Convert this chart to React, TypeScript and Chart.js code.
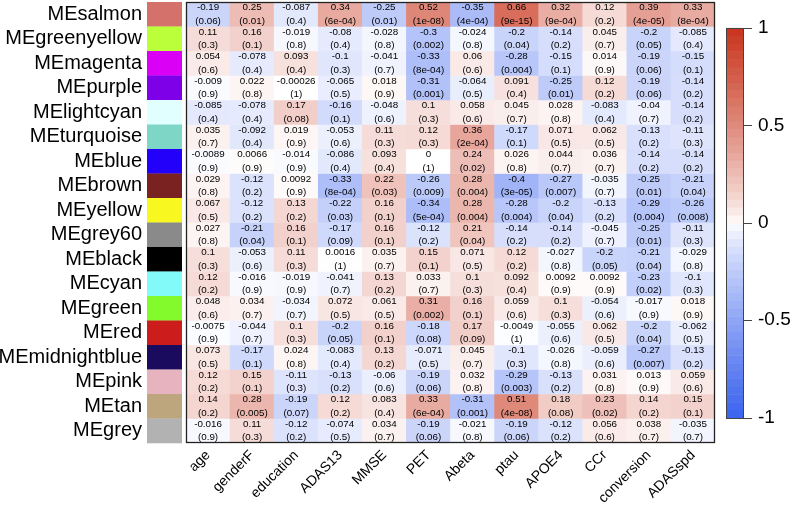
import React, { useEffect, useRef } from 'react';
import { Chart, registerables } from 'chart.js';
Chart.register(...registerables);

const FONT = '"Liberation Sans", Arial, Helvetica, sans-serif';

const traits = ['age', 'genderF', 'education', 'ADAS13', 'MMSE', 'PET', 'Abeta', 'ptau', 'APOE4', 'CCr', 'conversion', 'ADASspd'];

const modules = ['MEsalmon', 'MEgreenyellow', 'MEmagenta', 'MEpurple', 'MElightcyan', 'MEturquoise', 'MEblue', 'MEbrown', 'MEyellow', 'MEgrey60', 'MEblack', 'MEcyan', 'MEgreen', 'MEred', 'MEmidnightblue', 'MEpink', 'MEtan', 'MEgrey'];

const moduleColors = ['#D4716A', '#BBFF3A', '#DA00F5', '#7E00E8', '#E2FFFF', '#7DD6C6', '#2200FA', '#7A2222', '#F8F820', '#8A8A8A', '#000000', '#82FAFA', '#82FA2C', '#CC1C1C', '#1B0B5E', '#E6B3BE', '#BDA67E', '#B2B2B2'];

const corr = [
  [-0.19, 0.25, -0.087, 0.34, -0.25, 0.52, -0.35, 0.66, 0.32, 0.12, 0.39, 0.33],
  [0.11, 0.16, -0.019, -0.08, -0.028, -0.3, -0.024, -0.2, -0.14, 0.045, -0.2, -0.085],
  [0.054, -0.078, 0.093, -0.1, -0.041, -0.33, 0.06, -0.28, -0.15, 0.014, -0.19, -0.15],
  [-0.009, 0.022, -0.00026, -0.065, 0.018, -0.31, -0.064, 0.091, -0.25, 0.12, -0.19, -0.14],
  [-0.085, -0.078, 0.17, -0.16, -0.048, 0.1, 0.058, 0.045, 0.028, -0.083, -0.04, -0.14],
  [0.035, -0.092, 0.019, -0.053, 0.11, 0.12, 0.36, -0.17, 0.071, 0.062, -0.13, -0.11],
  [-0.0089, 0.0066, -0.014, -0.086, 0.093, 0, 0.24, 0.026, 0.044, 0.036, -0.14, -0.14],
  [0.029, -0.12, 0.0092, -0.33, 0.22, -0.26, 0.28, -0.4, -0.27, -0.035, -0.25, -0.21],
  [0.067, -0.12, 0.13, -0.22, 0.16, -0.34, 0.28, -0.28, -0.2, -0.13, -0.29, -0.26],
  [0.027, -0.21, 0.16, -0.17, 0.16, -0.12, 0.21, -0.14, -0.14, -0.045, -0.25, -0.11],
  [0.1, -0.053, 0.11, 0.0016, 0.035, 0.15, 0.071, 0.12, -0.027, -0.2, -0.21, -0.029],
  [0.12, -0.016, -0.019, -0.041, 0.13, 0.033, 0.1, 0.092, 0.0092, 0.0092, -0.23, -0.1],
  [0.048, 0.034, -0.034, 0.072, 0.061, 0.31, 0.16, 0.059, 0.1, -0.054, -0.017, 0.018],
  [-0.0075, -0.044, 0.1, -0.2, 0.16, -0.18, 0.17, -0.0049, -0.055, 0.062, -0.2, -0.062],
  [0.073, -0.17, 0.024, -0.083, 0.13, -0.071, 0.045, -0.1, -0.026, -0.059, -0.27, -0.13],
  [0.12, 0.15, -0.11, -0.13, -0.06, -0.19, 0.032, -0.29, -0.13, 0.031, 0.013, 0.059],
  [0.14, 0.28, -0.19, 0.12, 0.083, 0.33, -0.31, 0.51, 0.18, 0.23, 0.14, 0.15],
  [-0.016, 0.11, -0.12, -0.074, 0.034, -0.19, -0.021, -0.19, -0.12, 0.056, 0.038, -0.035],
];

const pvals = [
  ['0.06', '0.01', '0.4', '6e-04', '0.01', '1e-08', '4e-04', '9e-15', '9e-04', '0.2', '4e-05', '8e-04'],
  ['0.3', '0.1', '0.8', '0.4', '0.8', '0.002', '0.8', '0.04', '0.2', '0.7', '0.05', '0.4'],
  ['0.6', '0.4', '0.4', '0.3', '0.7', '8e-04', '0.6', '0.004', '0.1', '0.9', '0.06', '0.1'],
  ['0.9', '0.8', '1', '0.5', '0.9', '0.001', '0.5', '0.4', '0.01', '0.2', '0.06', '0.2'],
  ['0.4', '0.4', '0.08', '0.1', '0.6', '0.3', '0.6', '0.7', '0.8', '0.4', '0.7', '0.2'],
  ['0.7', '0.4', '0.9', '0.6', '0.3', '0.3', '2e-04', '0.1', '0.5', '0.5', '0.2', '0.3'],
  ['0.9', '0.9', '0.9', '0.4', '0.4', '1', '0.02', '0.8', '0.7', '0.7', '0.2', '0.2'],
  ['0.8', '0.2', '0.9', '8e-04', '0.03', '0.009', '0.004', '3e-05', '0.007', '0.7', '0.01', '0.04'],
  ['0.5', '0.2', '0.2', '0.03', '0.1', '5e-04', '0.004', '0.004', '0.04', '0.2', '0.004', '0.008'],
  ['0.8', '0.04', '0.1', '0.09', '0.1', '0.2', '0.04', '0.2', '0.2', '0.7', '0.01', '0.3'],
  ['0.3', '0.6', '0.3', '1', '0.7', '0.1', '0.5', '0.2', '0.8', '0.05', '0.04', '0.8'],
  ['0.2', '0.9', '0.9', '0.7', '0.2', '0.7', '0.3', '0.4', '0.9', '0.9', '0.02', '0.3'],
  ['0.6', '0.7', '0.7', '0.5', '0.5', '0.002', '0.1', '0.6', '0.3', '0.6', '0.9', '0.9'],
  ['0.9', '0.7', '0.3', '0.05', '0.1', '0.08', '0.09', '1', '0.6', '0.5', '0.04', '0.5'],
  ['0.5', '0.1', '0.8', '0.4', '0.2', '0.5', '0.7', '0.3', '0.8', '0.6', '0.007', '0.2'],
  ['0.2', '0.1', '0.3', '0.2', '0.6', '0.06', '0.8', '0.003', '0.2', '0.8', '0.9', '0.6'],
  ['0.2', '0.005', '0.07', '0.2', '0.4', '6e-04', '0.001', '4e-08', '0.08', '0.02', '0.2', '0.1'],
  ['0.9', '0.3', '0.2', '0.5', '0.7', '0.06', '0.8', '0.06', '0.2', '0.6', '0.7', '0.7'],
];

const colorbarTicks = [1, 0.5, 0, -0.5, -1];

const RED_END = [200, 52, 28];
const BLUE_END = [58, 98, 238];

function corrColor(v: number): string {
  const end = v >= 0 ? RED_END : BLUE_END;
  const f = Math.pow(Math.min(1, Math.abs(v)), 0.8);
  const c = end.map((e) => Math.round(255 + (e - 255) * f));
  return `rgb(${c[0]},${c[1]},${c[2]})`;
}

const heatPlugin = {
  id: 'heatExtras',
  afterDatasetsDraw(chart: any) {
    const ctx = chart.ctx;
    const { left, top, right, bottom } = chart.chartArea;
    ctx.save();
    // cell texts
    ctx.font = `9.8px ${FONT}`;
    ctx.fillStyle = '#000';
    ctx.textAlign = 'center';
    ctx.textBaseline = 'middle';
    chart.data.datasets.forEach((_ds: any, di: number) => {
      const meta = chart.getDatasetMeta(di);
      meta.data.forEach((el: any, ci: number) => {
        const cy = (el.y + el.base) / 2;
        ctx.fillText(String(corr[di][ci]), el.x, cy - 6.5);
        ctx.fillText('(' + pvals[di][ci] + ')', el.x, cy + 6.8);
      });
    });
    // heatmap frame
    ctx.strokeStyle = '#222';
    ctx.lineWidth = 1.3;
    ctx.strokeRect(left + 0.5, top + 0.5, right - left - 1, bottom - top - 1);
    // module color swatches
    const ys = chart.scales.y;
    modules.forEach((_m, i) => {
      const y0 = ys.getPixelForValue(i);
      const y1 = ys.getPixelForValue(i + 1);
      ctx.fillStyle = moduleColors[i];
      ctx.fillRect(left - 39, y0, 35, y1 - y0 + 0.3);
    });
    // colorbar
    const cb = chart.scales.cb;
    const cbx = right + 11;
    const cbw = 17;
    const n = 50;
    for (let k = 0; k < n; k++) {
      const v0 = -1 + (2 * k) / n;
      const v1 = -1 + (2 * (k + 1)) / n;
      const p0 = cb.getPixelForValue(v0);
      const p1 = cb.getPixelForValue(v1);
      ctx.fillStyle = corrColor((v0 + v1) / 2);
      ctx.fillRect(cbx, p1, cbw, p0 - p1 + 0.5);
    }
    const yTop = cb.getPixelForValue(1);
    const yBot = cb.getPixelForValue(-1);
    ctx.strokeStyle = '#444';
    ctx.lineWidth = 1;
    ctx.strokeRect(cbx + 0.5, Math.round(yTop) + 0.5, cbw, Math.round(yBot - yTop));
    colorbarTicks.forEach((t) => {
      const py = Math.round(cb.getPixelForValue(t)) + 0.5;
      ctx.beginPath();
      ctx.moveTo(cbx + cbw, py);
      ctx.lineTo(cbx + cbw + 9, py);
      ctx.stroke();
    });
    ctx.restore();
  },
};

export default function App() {
  const ref = useRef<HTMLCanvasElement | null>(null);
  useEffect(() => {
    if (!ref.current) return;
    const chart = new Chart(ref.current, {
      type: 'bar',
      data: {
        labels: traits,
        datasets: modules.map((m, i) => ({
          label: m,
          data: traits.map(() => 1),
          backgroundColor: corr[i].map(corrColor),
          borderWidth: 0,
          categoryPercentage: 1,
          barPercentage: 1,
        })),
      },
      options: {
        responsive: false,
        animation: false,
        devicePixelRatio: 1,
        events: [],
        layout: { padding: { top: 2, left: 0, right: 0, bottom: 0 } },
        plugins: { legend: { display: false }, tooltip: { enabled: false } },
        scales: {
          x: {
            type: 'category',
            stacked: true,
            grid: { display: false, drawTicks: false },
            border: { display: false },
            ticks: {
              autoSkip: false,
              minRotation: 45,
              maxRotation: 45,
              padding: 4,
              color: '#000',
              font: { family: FONT, size: 14 },
            },
            afterFit(s: any) {
              s.height = 65;
              s.paddingLeft = 0;
              s.paddingRight = 0;
            },
          },
          y: {
            type: 'linear',
            stacked: true,
            reverse: true,
            min: 0,
            max: 18,
            grid: { display: false, drawTicks: false },
            border: { display: false },
            afterBuildTicks(s: any) {
              s.ticks = modules.map((_m, i) => ({ value: i + 0.5 }));
            },
            ticks: {
              autoSkip: false,
              padding: 44,
              color: '#000',
              font: { family: FONT, size: 20 },
              callback: (_v: any, idx: number) => modules[idx],
            },
            afterFit(s: any) {
              s.width = 186;
              s.paddingTop = 0;
              s.paddingBottom = 0;
            },
          },
          cb: {
            type: 'linear',
            axis: 'y',
            position: 'right',
            min: -1.13,
            max: 1.133,
            grid: { display: false, drawTicks: false },
            border: { display: false },
            afterBuildTicks(s: any) {
              s.ticks = colorbarTicks.map((v) => ({ value: v }));
            },
            ticks: {
              autoSkip: false,
              padding: 43,
              color: '#000',
              font: { family: FONT, size: 19 },
              callback: (v: any) => String(v),
            },
            afterFit(s: any) {
              s.width = 79;
              s.paddingTop = 0;
              s.paddingBottom = 0;
            },
          },
        },
      } as any,
      plugins: [heatPlugin],
    });
    return () => chart.destroy();
  }, []);
  return (
    <div style={{ position: 'absolute', left: 0, top: 0, width: 794, height: 508, background: '#fff' }}>
      <canvas ref={ref} width={794} height={508} style={{ width: 794, height: 508, display: 'block' }} />
    </div>
  );
}
